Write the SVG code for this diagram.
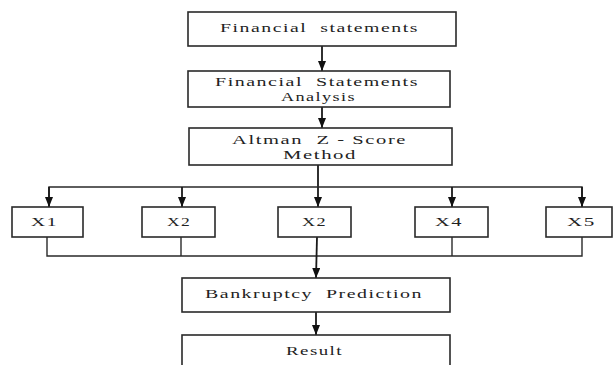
<svg xmlns="http://www.w3.org/2000/svg" width="613" height="365" viewBox="0 0 613 365">
  <style>
    .box { fill: #fff; stroke: #2a2a2a; stroke-width: 1.6; }
    .lbl { font-family: "Liberation Serif", "DejaVu Serif", serif; font-size: 13px; fill: #222; letter-spacing: 1px; white-space: pre; }
    .wire { fill: none; stroke: #2a2a2a; stroke-width: 1.4; }
    .arr { fill: none; stroke: #1a1a1a; stroke-width: 1.8; marker-end: url(#head); }
  </style>
  <defs>
    <marker id="head" viewBox="0 0 10 8" refX="10" refY="4" markerWidth="10" markerHeight="8" markerUnits="userSpaceOnUse" orient="auto">
      <path d="M0,0 L10,4 L0,8 Z" fill="#111"/>
    </marker>
  </defs>
  <rect width="613" height="365" fill="#fff"/>

  <g id="connectors">
    <line class="arr" x1="322" y1="46" x2="322" y2="71"/>
    <line class="arr" x1="322" y1="107" x2="322" y2="128"/>
    <line class="arr" x1="318" y1="165" x2="318" y2="207"/>
    <polyline class="wire" points="49,207 49,187 582,187 582,207"/>
    <line class="arr" x1="49" y1="187" x2="49" y2="207"/>
    <line class="arr" x1="182" y1="187" x2="182" y2="207"/>
    <line class="arr" x1="452" y1="187" x2="452" y2="207"/>
    <line class="arr" x1="582" y1="187" x2="582" y2="207"/>
    <polyline class="wire" points="47,237 47,256 582,256 582,237"/>
    <line class="wire" x1="181" y1="237" x2="181" y2="256"/>
    <line class="wire" x1="452" y1="237" x2="452" y2="256"/>
    <line class="arr" x1="317" y1="237" x2="316" y2="278"/>
    <line class="arr" x1="316" y1="312" x2="316" y2="335"/>
  </g>

  <g id="financial-statements">
    <rect class="box" x="188" y="12" width="268" height="34"/>
    <text class="lbl" x="220" y="32" textLength="199" lengthAdjust="spacingAndGlyphs">Financial  statements</text>
  </g>
  <g id="statements-analysis">
    <rect class="box" x="188" y="71" width="262" height="36"/>
    <text class="lbl" x="215" y="86" textLength="204" lengthAdjust="spacingAndGlyphs">Financial  Statements</text>
    <text class="lbl" x="281" y="101" textLength="75" lengthAdjust="spacingAndGlyphs">Analysis</text>
  </g>
  <g id="altman-method">
    <rect class="box" x="189" y="128" width="263" height="37"/>
    <text class="lbl" x="232" y="144" textLength="175" lengthAdjust="spacingAndGlyphs">Altman  Z - Score</text>
    <text class="lbl" x="283" y="159" textLength="74" lengthAdjust="spacingAndGlyphs">Method</text>
  </g>
  <g id="x1">
    <rect class="box" x="12" y="207" width="71" height="30"/>
    <text class="lbl" x="31" y="226" textLength="27" lengthAdjust="spacingAndGlyphs">X1</text>
  </g>
  <g id="x2">
    <rect class="box" x="142" y="207" width="73" height="30"/>
    <text class="lbl" x="167" y="226" textLength="24" lengthAdjust="spacingAndGlyphs">X2</text>
  </g>
  <g id="x3">
    <rect class="box" x="278" y="207" width="73" height="30"/>
    <text class="lbl" x="302" y="226" textLength="25" lengthAdjust="spacingAndGlyphs">X2</text>
  </g>
  <g id="x4">
    <rect class="box" x="415" y="207" width="73" height="30"/>
    <text class="lbl" x="435" y="226" textLength="28" lengthAdjust="spacingAndGlyphs">X4</text>
  </g>
  <g id="x5">
    <rect class="box" x="546" y="207" width="66" height="30"/>
    <text class="lbl" x="567" y="226" textLength="29" lengthAdjust="spacingAndGlyphs">X5</text>
  </g>
  <g id="bankruptcy-prediction">
    <rect class="box" x="182" y="278" width="268" height="34"/>
    <text class="lbl" x="205" y="298" textLength="218" lengthAdjust="spacingAndGlyphs">Bankruptcy  Prediction</text>
  </g>
  <g id="result">
    <rect class="box" x="182" y="335" width="268" height="40"/>
    <text class="lbl" x="286" y="355" textLength="57" lengthAdjust="spacingAndGlyphs">Result</text>
  </g>
</svg>
